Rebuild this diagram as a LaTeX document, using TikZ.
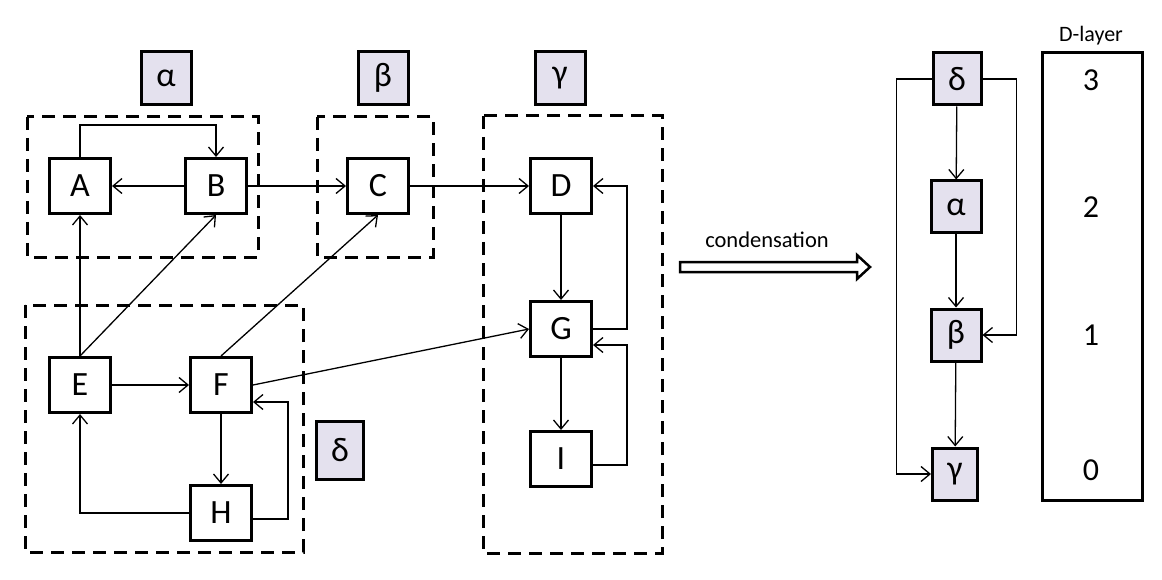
\documentclass[tikz,border=0pt]{standalone}
\usepackage{fontspec}
\setmainfont{Carlito}
\usetikzlibrary{arrows.meta,calc}
\definecolor{sccfill}{RGB}{228,225,238}
\begin{document}
\begin{tikzpicture}[x=1pt,y=-1pt,
  vbox/.style={draw,line width=3pt,minimum width=61pt,minimum height=55pt,inner sep=0pt,
    font=\fontsize{34}{36}\selectfont},
  sbox/.style={draw,line width=3pt,fill=sccfill,minimum width=49pt,minimum height=52pt,inner sep=0pt,
    font=\fontsize{34}{36}\selectfont},
  dashbox/.style={line width=3pt,dash pattern=on 13pt off 8pt},
  arr/.style={line width=1.3pt,-{Straight Barb[length=9pt,width=15pt,line width=1.3pt]}},
  num/.style={font=\fontsize{32}{34}\selectfont,inner sep=0pt}]
\useasboundingbox (0,0) rectangle (1162,580);

% strongly connected components
\draw[dashbox] (27,117) rectangle (258,257);
\draw[dashbox] (317,117) rectangle (433,257);
\draw[dashbox] (483,116) rectangle (662,553);
\draw[dashbox] (25,305) rectangle (303,552);

% component labels
\node[sbox,minimum width=50pt,minimum height=53pt] (la) at (166,78) {α};
\node[sbox,minimum width=50pt,minimum height=53pt] (lb) at (383,78) {β};
\node[sbox,minimum width=50pt,minimum height=53pt] (lc) at (560,78) {γ};
\node[sbox,minimum width=47pt,minimum height=58pt] (ld) at (340,450) {δ};

% vertices
\node[vbox] (A) at (80,186) {A};
\node[vbox] (B) at (216,186) {B};
\node[vbox] (C) at (378,186) {C};
\node[vbox] (D) at (561,186) {D};
\node[vbox] (E) at (80,385) {E};
\node[vbox] (F) at (221,385) {F};
\node[vbox] (G) at (561,329) {G};
\node[vbox] (H) at (221,513) {H};
\node[vbox] (I) at (561,459) {I};

% edges
\draw[arr] (A.north) -- ++(0,-32) -| (B.north);
\draw[arr] (B) -- (A);
\draw[arr] (B) -- (C);
\draw[arr] (C) -- (D);
\draw[arr] (E) -- (A);
\draw[arr] (E.north) -- (B.south);
\draw[arr] (E) -- (F);
\draw[arr] (F.north) -- (C.south);
\draw[arr] (F.east) -- (G.west);
\draw[arr] (F) -- (H);
\draw[arr] (H.west) -| (E.south);
\draw[arr] ([yshift=-6pt]H.east) -- ++(35,0) |- ([yshift=-17pt]F.east);
\draw[arr] (D) -- (G);
\draw[arr] (G.east) -- ++(34,0) |- (D.east);
\draw[arr] (G) -- (I);
\draw[arr] ([yshift=-6pt]I.east) -- ++(34,0) |- ([yshift=-16pt]G.east);

% condensation arrow (hollow block arrow)
\node[font=\fontsize{22.5}{25}\selectfont] (cl) at (767,240) {condensation};
\draw[line width=2.5pt,miter limit=10]
  (680,262) -- (857,262) -- (857,255) -- (870,267) -- (857,279) -- (857,272) -- (680,272) -- cycle;

% condensed graph
\node[sbox,minimum width=48pt] (d2) at (957,79) {δ};
\node[sbox,minimum width=50pt] (a2) at (956,207) {α};
\node[sbox,minimum width=50pt] (b2) at (956,335) {β};
\node[sbox,minimum width=45pt] (g2) at (955,474) {γ};
\draw[arr] (d2) -- (a2);
\draw[arr] (a2) -- (b2);
\draw[arr] (b2) -- (g2);
\draw[arr] (d2.west) -- ++(-35,0) |- (g2.west);
\draw[arr] (d2.east) -- ++(34,0) |- (b2.east);

% D-layer column
\node[font=\fontsize{22}{24}\selectfont] (dl) at (1091,36) {D-layer};
\node[draw,line width=3pt,minimum width=100pt,minimum height=447pt,inner sep=0pt] (lay) at (1092,276.5) {};
\node[num] (n3) at (1091,80) {3};
\node[num] (n2) at (1091,207) {2};
\node[num] (n1) at (1091,335) {1};
\node[num] (n0) at (1091,470) {0};
\end{tikzpicture}
\end{document}
